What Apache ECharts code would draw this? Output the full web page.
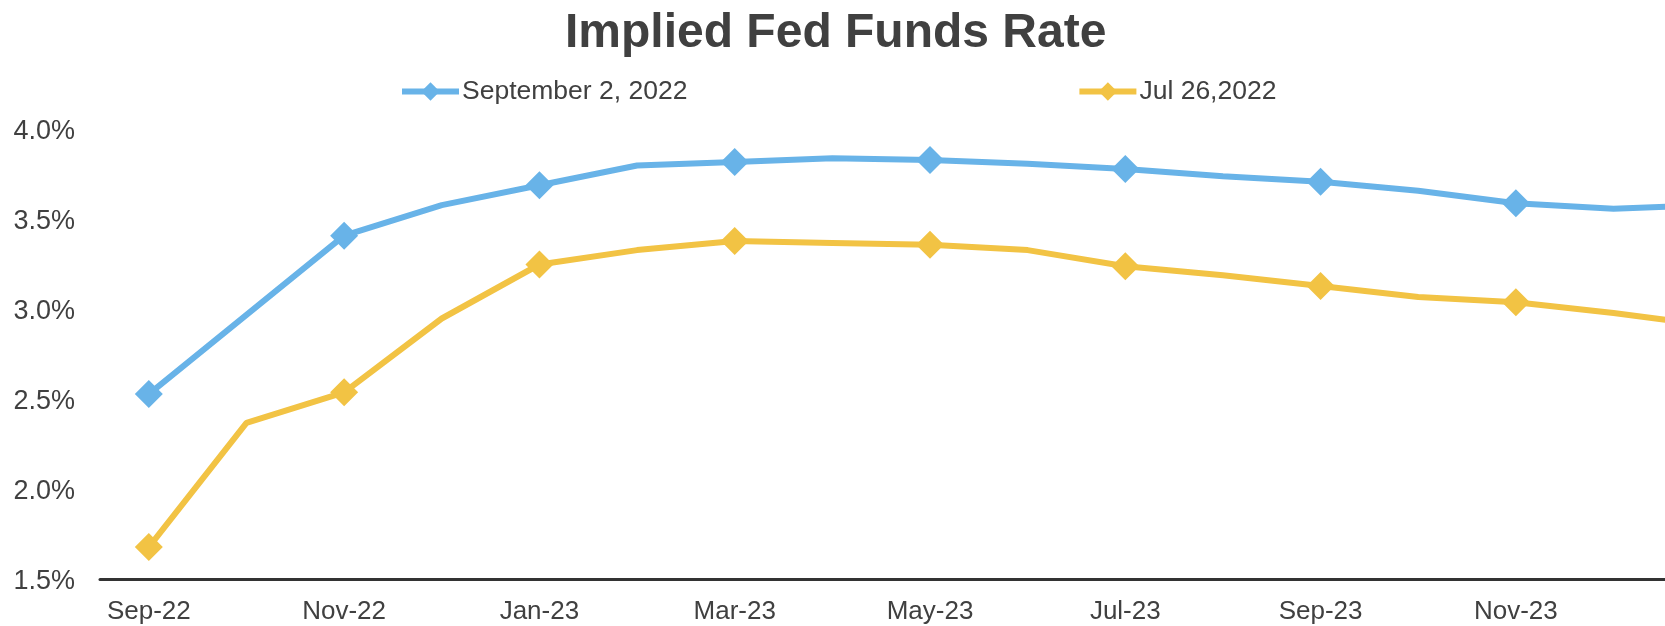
<!DOCTYPE html>
<html>
<head>
<meta charset="utf-8">
<script src="https://cdn.jsdelivr.net/npm/echarts@6/dist/echarts.min.js"></script>
<style>
html,body{margin:0;padding:0;background:#fff;overflow:hidden;width:1665px;height:626px;}
#chart{width:1760px;height:626px;}
</style>
</head>
<body>
<div id="chart"></div>
<script>
const categories = ['Sep-22','Oct-22','Nov-22','Dec-22','Jan-23','Feb-23','Mar-23','Apr-23','May-23','Jun-23','Jul-23','Aug-23','Sep-23','Oct-23','Nov-23','Dec-23','Jan-24'];
const sep2Values = [2.53,2.97,3.41,3.58,3.69,3.80,3.82,3.84,3.83,3.81,3.78,3.74,3.71,3.66,3.59,3.56,3.58];
const jul26Values = [1.68,2.37,2.54,2.95,3.25,3.33,3.38,3.37,3.36,3.33,3.24,3.19,3.13,3.07,3.04,2.98,2.91];
const seriesNames = ['September 2, 2022','Jul 26,2022'];
const seriesColors = ['#68B3E8','#F2C344'];

const FONT = "'Liberation Sans', Arial, sans-serif";
const TEXT = '#404040';

const chart = echarts.init(document.getElementById('chart'), null, {renderer:'canvas'});

function mk(name, values, color){
  return {
    name: name,
    type: 'line',
    data: values.map(function(v, i){ return i % 2 === 0 ? v : {value: v, symbol: 'none'}; }),
    showAllSymbol: true,
    symbol: 'diamond',
    symbolSize: 28,
    lineStyle: {width: 6, color: color},
    itemStyle: {color: color},
    emphasis: {disabled: true},
    animation: false,
    z: 3
  };
}

chart.setOption({
  animation: false,
  textStyle: {fontFamily: FONT},
  title: {
    text: 'Implied Fed Funds Rate',
    left: 565,
    top: 10,
    padding: 0,
    textStyle: {fontFamily: FONT, fontSize: 48, fontWeight: 'bold', color: TEXT}
  },
  legend: {
    data: seriesNames,
    left: 399,
    top: 78,
    padding: 0,
    itemWidth: 57,
    itemHeight: 23,
    itemGap: 389,
    lineStyle: {width: 6},
    textStyle: {fontFamily: FONT, fontSize: 26.5, color: TEXT, padding: [0,0,0,-2]}
  },
  grid: {left: 100, top: 129.5, bottom: 46.5, right: 0, containLabel: false},
  xAxis: {
    type: 'category',
    data: categories,
    boundaryGap: true,
    axisLine: {show: true, lineStyle: {color: '#333333', width: 3}},
    axisTick: {show: false},
    axisLabel: {interval: 1, fontFamily: FONT, fontSize: 26, color: TEXT, margin: 19}
  },
  yAxis: {
    type: 'value',
    min: 1.5,
    max: 4.0,
    interval: 0.5,
    axisLine: {show: false},
    axisTick: {show: false},
    splitLine: {show: false},
    axisLabel: {fontFamily: FONT, fontSize: 27, color: TEXT, margin: 25,
      formatter: function(v){ return '{a|' + v.toFixed(1) + '%}'; },
      rich: {a: {fontFamily: FONT, fontSize: 27, color: TEXT, padding: [5,0,0,0]}}}
  },
  series: [
    mk(seriesNames[0], sep2Values, seriesColors[0]),
    mk(seriesNames[1], jul26Values, seriesColors[1])
  ]
});
</script>
</body>
</html>
